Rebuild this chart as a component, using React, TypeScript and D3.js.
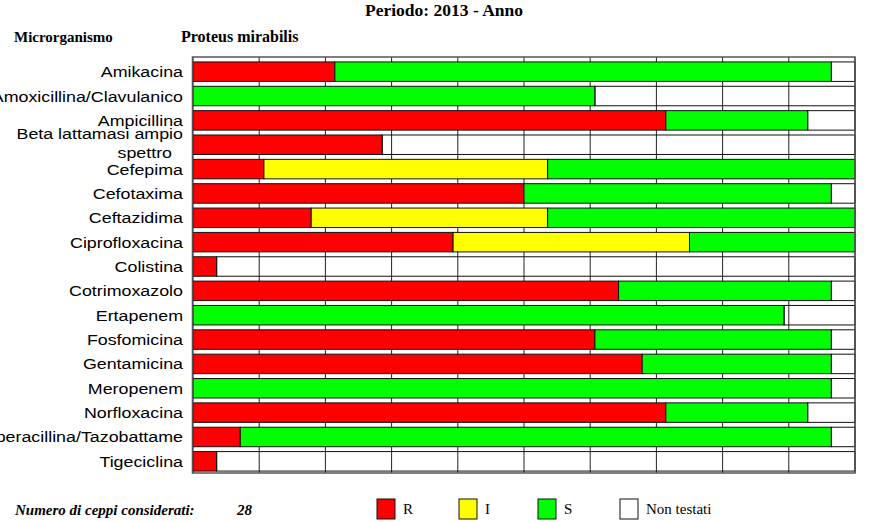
import React from "react";
import * as d3 from "d3";

const TITLE = "Periodo: 2013 - Anno";
const ORGANISM = "Proteus mirabilis";
const TOTAL = 28;

const antibiotics = [
  "Amikacina",
  "Amoxicillina/Clavulanico",
  "Ampicillina",
  "Beta lattamasi ampio spettro",
  "Cefepima",
  "Cefotaxima",
  "Ceftazidima",
  "Ciprofloxacina",
  "Colistina",
  "Cotrimoxazolo",
  "Ertapenem",
  "Fosfomicina",
  "Gentamicina",
  "Meropenem",
  "Norfloxacina",
  "Piperacillina/Tazobattame",
  "Tigeciclina",
];

const valuesR = [6, 0, 20, 8, 3, 14, 5, 11, 1, 18, 0, 17, 19, 0, 20, 2, 1];
const valuesI = [0, 0, 0, 0, 12, 0, 10, 10, 0, 0, 0, 0, 0, 0, 0, 0, 0];
const valuesS = [21, 17, 6, 0, 13, 13, 13, 7, 0, 9, 25, 10, 8, 27, 6, 25, 0];

const categories = ["R", "I", "S", "Non testati"];
const colors = ["#ff0000", "#ffff00", "#00ff00", "none"];
const gridTicks = [0, 10, 20, 30, 40, 50, 60, 70, 80, 90, 100];

export default function App() {
  const W = 870;
  const H = 522;
  const left = 193;
  const right = 855;
  const top = 57;
  const bottom = 473;

  const x = d3.scaleLinear().domain([0, 100]).range([left, right]);
  const y = d3
    .scaleBand<string>()
    .domain(antibiotics)
    .range([59.5, 473.5])
    .paddingInner(0.2)
    .paddingOuter(0.1);

  const rows = antibiotics.map((name, i) => {
    const counts = [valuesR[i], valuesI[i], valuesS[i]];
    counts.push(TOTAL - counts[0] - counts[1] - counts[2]);
    return { name, counts };
  });

  const stack = d3
    .stack<{ name: string; counts: number[] }, number>()
    .keys([0, 1, 2, 3])
    .value((d, k) => (d.counts[k] / TOTAL) * 100);
  const series = stack(rows);

  const labelFont = "'Liberation Sans', Arial, sans-serif";
  const serif = "'Liberation Serif', 'Times New Roman', serif";
  const sx = 1.19;

  const legendX = [377, 459, 538, 620];

  return (
    <svg
      width={W}
      height={H}
      style={{ position: "absolute", left: 0, top: 0, background: "#fff" }}
    >
      <rect x={0} y={0} width={W} height={H} fill="#fff" />
      <text
        x={444}
        y={16}
        textAnchor="middle"
        fontFamily={serif}
        fontWeight="bold"
        fontSize={17.5}
      >
        {TITLE}
      </text>
      <text x={14} y={42} fontFamily={serif} fontWeight="bold" fontSize={15}>
        Microrganismo
      </text>
      <text x={181} y={42} fontFamily={serif} fontWeight="bold" fontSize={16}>
        {ORGANISM}
      </text>

      {/* grid */}
      {gridTicks.map((t) => (
        <line
          key={t}
          x1={x(t)}
          x2={x(t)}
          y1={top}
          y2={bottom}
          stroke="#222"
          strokeWidth={1}
        />
      ))}

      {/* bars */}
      {series.map((s, k) => (
        <g key={k}>
          {s.map((d, i) => {
            const w = x(d[1]) - x(d[0]);
            if (w <= 0) return null;
            return (
              <rect
                key={i}
                x={x(d[0])}
                y={y(antibiotics[i])}
                width={w}
                height={y.bandwidth()}
                fill={colors[k] === "none" ? "none" : colors[k]}
                stroke="#111"
                strokeWidth={1}
              />
            );
          })}
        </g>
      ))}

      {/* frame */}
      <rect
        x={left - 0.5}
        y={top}
        width={right - left + 0.5}
        height={bottom - top}
        fill="none"
        stroke="#555"
        strokeWidth={1.5}
      />

      {/* labels */}
      {antibiotics.map((name) => {
        const cy = (y(name) as number) + y.bandwidth() / 2;
        if (name === "Beta lattamasi ampio spettro") {
          return (
            <g key={name} fontFamily={labelFont} fontSize={15} textAnchor="end">
              <g transform={`translate(183,${cy - 6}) scale(${sx},1)`}>
                <text x={0} y={0}>Beta lattamasi ampio</text>
              </g>
              <g transform={`translate(172,${cy + 13}) scale(${sx},1)`}>
                <text x={0} y={0}>spettro</text>
              </g>
            </g>
          );
        }
        return (
          <g
            key={name}
            transform={`translate(183,${cy + 5.5}) scale(${sx},1)`}
          >
            <text x={0} y={0} textAnchor="end" fontFamily={labelFont} fontSize={15}>
              {name}
            </text>
          </g>
        );
      })}

      {/* footer */}
      <text
        x={15}
        y={515}
        fontFamily={serif}
        fontStyle="italic"
        fontWeight="bold"
        fontSize={15}
      >
        Numero di ceppi considerati:
      </text>
      <text
        x={237}
        y={515}
        fontFamily={serif}
        fontStyle="italic"
        fontWeight="bold"
        fontSize={15}
      >
        {TOTAL}
      </text>

      {categories.map((c, k) => (
        <g key={c}>
          <rect
            x={legendX[k]}
            y={499}
            width={18}
            height={20}
            fill={colors[k] === "none" ? "#fff" : colors[k]}
            stroke="#111"
            strokeWidth={1}
          />
          <text x={legendX[k] + 26} y={514} fontFamily={serif} fontSize={15}>
            {c}
          </text>
        </g>
      ))}
    </svg>
  );
}
